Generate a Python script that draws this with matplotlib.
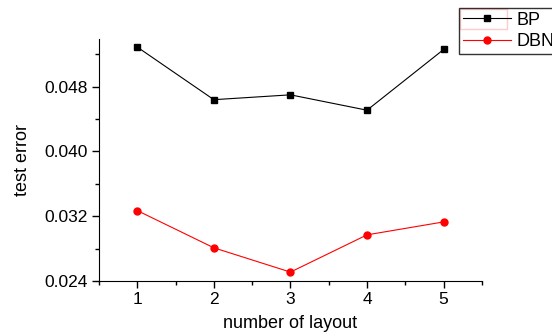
import numpy as np
import matplotlib.pyplot as plt
from matplotlib.patches import Rectangle
from matplotlib.ticker import MultipleLocator

plt.rcParams['font.family'] = ['Liberation Sans', 'DejaVu Sans']

# 数据
layouts = [1, 2, 3, 4, 5]
bp_error = [0.0529, 0.0464, 0.0470, 0.0451, 0.0526]
dbn_error = [0.0327, 0.0281, 0.0251, 0.0297, 0.0313]
y_ticks = [0.024, 0.032, 0.040, 0.048]

fig = plt.figure(figsize=(5.52, 3.36), dpi=100)
ax = fig.add_axes([0.1793, 0.1637, 0.873 - 0.1793, 0.884 - 0.1637])

ax.plot(layouts, bp_error, color='black', linewidth=0.8, marker='s',
        markersize=5, label='BP')
ax.plot(layouts, dbn_error, color='red', linewidth=0.8, marker='o',
        markersize=5, label='DBN')

ax.set_xlim(0.5, 5.5)
ax.set_ylim(0.024, 0.0539)
ax.set_xticks(layouts)
ax.xaxis.set_minor_locator(MultipleLocator(0.5))
ax.set_yticks(y_ticks)
ax.set_yticklabels(['%.3f' % v for v in y_ticks])
ax.yaxis.set_minor_locator(MultipleLocator(0.004))

ax.spines['top'].set_visible(False)
ax.spines['right'].set_visible(False)
ax.tick_params(which='major', direction='out', length=5, width=1,
               labelsize=12.5, pad=3)
ax.tick_params(which='minor', direction='out', length=3, width=1)

ax.set_xlabel('number of layout', fontsize=13, labelpad=6)
ax.set_ylabel('test error', fontsize=13, labelpad=10)

leg = fig.legend(loc='upper left', bbox_to_anchor=(459 / 552, 1 - 8 / 336),
                 fontsize=13, frameon=True, fancybox=False,
                 edgecolor='black', handlelength=2.7, borderpad=0.2,
                 labelspacing=0.25, handletextpad=0.3, borderaxespad=0)
leg.get_frame().set_linewidth(1)

# 图例中BP的红色选框
fig.patches.append(Rectangle((460 / 552, 1 - 29 / 336), 47 / 552, 20 / 336,
                             transform=fig.transFigure, fill=False,
                             edgecolor='red', linewidth=1))

plt.savefig('out.png', dpi=100)
